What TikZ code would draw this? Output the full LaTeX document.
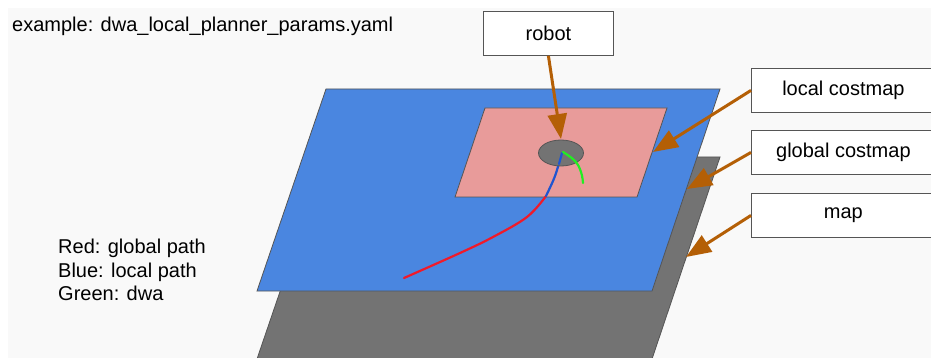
\documentclass[tikz,border=0pt]{standalone}
\usepackage{fontspec}
\setmainfont{Liberation Sans}
\usetikzlibrary{arrows.meta,shapes.geometric}
\definecolor{bgc}{HTML}{F9F9F9}
\definecolor{planeblue}{HTML}{4A86E0}
\definecolor{planegray}{HTML}{737373}
\definecolor{planepink}{HTML}{E89B9A}
\definecolor{edgec}{HTML}{555555}
\definecolor{arrowc}{HTML}{B45F06}
\definecolor{pathred}{HTML}{F01A2A}
\definecolor{pathblue}{HTML}{1F55D0}
\definecolor{pathgreen}{HTML}{22EE22}
\tikzset{
  plane/.style={draw=edgec,line width=0.8pt},
  labelbox/.style={draw=edgec,fill=white,line width=0.8pt,minimum height=44pt,inner sep=0pt,anchor=north west,font=\fontsize{20}{24}\selectfont},
  pointer/.style={draw=arrowc,line width=3pt,-{Triangle[length=25pt,width=19pt]}},
  plaintext/.style={inner sep=0pt,anchor=base west,font=\fontsize{20}{24}\selectfont},
  trail/.style={line width=2.2pt,line cap=round}
}
\begin{document}
\begin{tikzpicture}[x=1pt,y=-1pt]
\useasboundingbox (0,0) rectangle (931,358);
\clip (0,0) rectangle (931,358);
\fill[bgc] (8,8) rectangle (931,358);
% title
\node[plaintext] (title) at (12,32) {example: dwa\_local\_planner\_params.yaml};
% legend
\node[plaintext] (leg1) at (58,253) {Red: global path};
\node[plaintext] (leg2) at (58,277) {Blue: local path};
\node[plaintext] (leg3) at (58,300) {Green: dwa};
% map plane
\filldraw[plane,fill=planegray] (326,157) -- (720,157) -- (652,359) -- (257,359) -- cycle;
% global costmap plane
\filldraw[plane,fill=planeblue] (326,89) -- (720,89) -- (652,291) -- (257,291) -- cycle;
% local costmap plane
\filldraw[plane,fill=planepink] (485,108) -- (667,108) -- (637,197) -- (455,197) -- cycle;
% paths
\draw[trail,pathred] plot[smooth,tension=0.6] coordinates {(546,196) (527,217) (493,237) (460,253) (404,278)};
\draw[trail,pathblue] plot[smooth,tension=0.6] coordinates {(562,152) (557,170) (553,181) (546,196)};
% robot
\node[ellipse,draw=edgec,fill=planegray,line width=0.8pt,minimum width=45pt,minimum height=26pt,inner sep=0pt] (robotdot) at (561,153) {};
\draw[trail,pathblue] (562,153) -- (559,164);
\draw[trail,pathgreen] plot[smooth,tension=0.7] coordinates {(563,152) (575,161) (581,172) (583,183)};
% label boxes
\node[labelbox,minimum width=130pt] (robot) at (483,11) {robot};
\node[labelbox,minimum width=184pt] (local) at (751,68) {local costmap};
\node[labelbox,minimum width=184pt] (global) at (751,130) {global costmap};
\node[labelbox,minimum width=184pt] (map) at (751,193) {map};
% targets
\coordinate (tlocal) at (653,152);
\coordinate (tglobal) at (687,189);
\coordinate (tmap) at (686,257);
\coordinate (trobot) at (561,139);
% pointers
\draw[pointer] (robot.south) -- (trobot);
\draw[pointer] (local.west) -- (tlocal);
\draw[pointer] (global.west) -- (tglobal);
\draw[pointer] (map.west) -- (tmap);
\end{tikzpicture}
\end{document}
